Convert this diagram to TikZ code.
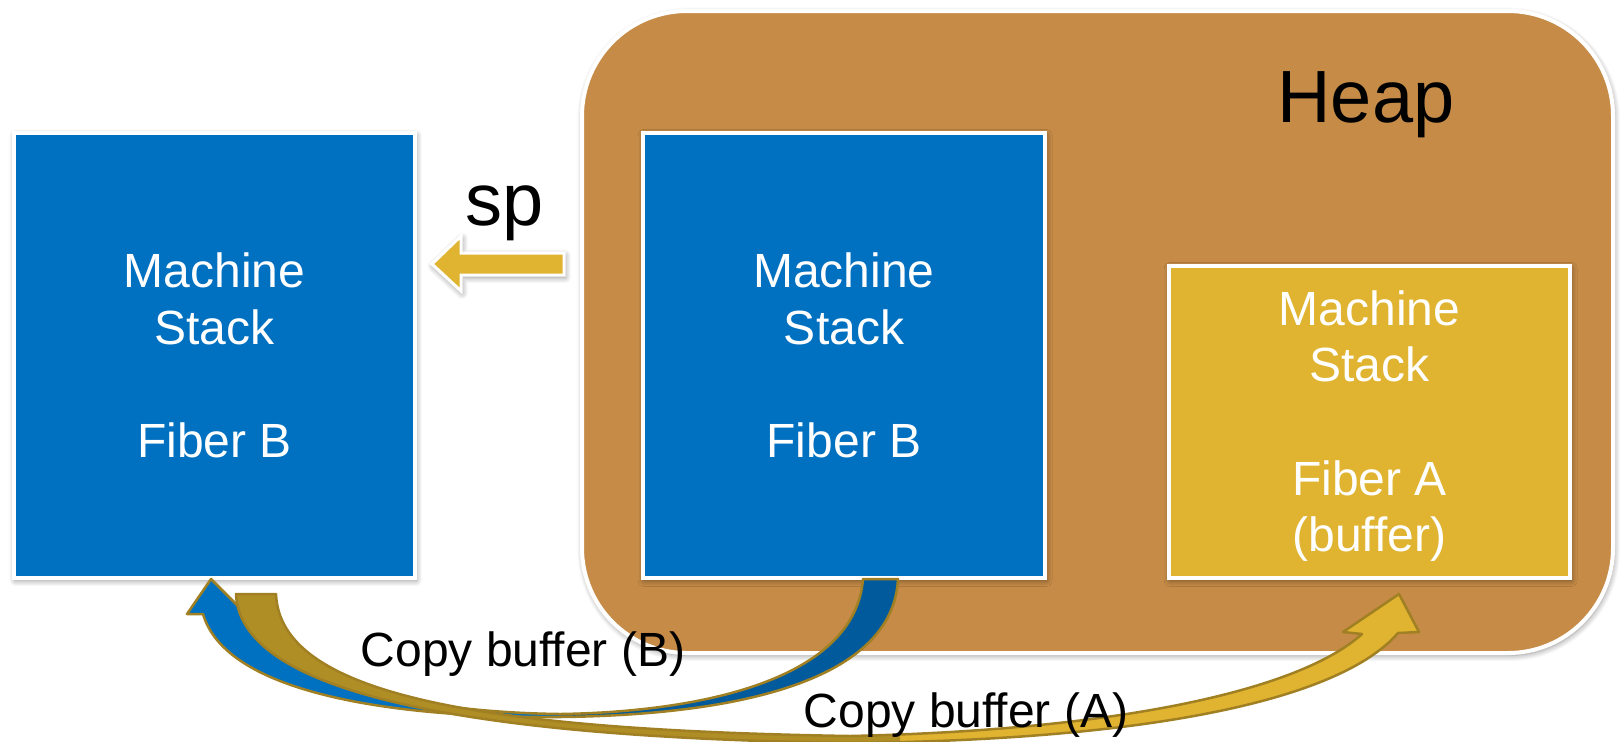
\documentclass[tikz,border=0pt]{standalone}
\usepackage{fontspec}
\setmainfont{Liberation Sans}
\usetikzlibrary{shadows.blur}

\definecolor{heapbrown}{RGB}{198,139,71}
\definecolor{stackblue}{RGB}{0,112,192}
\definecolor{stackbluedark}{RGB}{0,90,156}
\definecolor{bufferyellow}{RGB}{224,180,48}
\definecolor{bufferdark}{RGB}{176,142,38}
\definecolor{arrowrim}{RGB}{160,128,34}

% outline of the curved "copy buffer (B)" arrow: tail under the heap stack, head at the machine stack
\def\copyBpath{(863,579) -- (898,579) .. controls (893,680) and (740,715) .. (560,717)
  .. controls (380,718) and (225,690) .. (203,614) -- (187,614) -- (211,579) -- (246,614) -- (243,614)
  .. controls (262,675) and (400,712) .. (560,714) .. controls (700,712) and (855,680) .. (863,579) -- cycle}

% outline of the curved "copy buffer (A)" arrow: tail under the machine stack, head at the buffer
\def\copyApath{(236,594) -- (276,594) .. controls (280,695) and (480,730) .. (850,736)
  .. controls (1120,730) and (1300,690) .. (1362,634) -- (1343,632) -- (1399,594) -- (1419,632) -- (1398,633)
  .. controls (1340,700) and (1150,740) .. (850,743) .. controls (500,738) and (240,700) .. (236,594) -- cycle}

\begin{document}
\begin{tikzpicture}[x=0.5pt, y=-0.5pt,
  softshadow/.style={blur shadow={shadow xshift=0.6pt, shadow yshift=-1.2pt,
      shadow blur radius=3pt, shadow blur steps=8, shadow opacity=45}},
  heapbox/.style={draw=white, line width=2pt, fill=heapbrown, rounded corners=52.5pt,
      minimum width=515.5pt, minimum height=321pt, inner sep=0pt, softshadow},
  stackbox/.style={draw=white, line width=2pt, inner sep=0pt, minimum width=200.5pt, softshadow},
  boxtext/.style={text=white, align=center, font=\fontsize{24}{28.3}\selectfont},
  bigtext/.style={font=\fontsize{37}{44}\selectfont, anchor=base},
  copytext/.style={font=\fontsize{24}{28}\selectfont, anchor=base},
  rim/.style={draw=arrowrim, line width=1.25pt, line join=round},
]
\useasboundingbox (0,0) rectangle (1622,741);

% heap region and the three stacks
\node[heapbox] (heap) at (1097.5,332) {};
\node[stackbox, fill=stackblue, minimum height=222.5pt] (left) at (214.5,355.5) {};
\node[stackbox, fill=stackblue, minimum width=201pt, minimum height=222.5pt] (mid) at (844,355.5) {};
\node[stackbox, fill=bufferyellow, minimum height=156pt] (buf) at (1369.5,422) {};

\node[boxtext] (leftlbl) at (left.center) {Machine\\Stack\\[28.3pt]Fiber B};
\node[boxtext] (midlbl) at (mid.center) {Machine\\Stack\\[28.3pt]Fiber B};
\node[boxtext, yshift=-2pt] (buflbl) at (buf.center) {Machine\\Stack\\[28.3pt]Fiber A\\(buffer)};

\node[bigtext] (heaplbl) at (1366,122) {Heap};

% stack pointer arrow
\node[bigtext] (splbl) at (505,225) {sp};
\coordinate (sptip) at (432,264);
\path[fill=bufferyellow, draw=white, line width=1.5pt, softshadow]
  (sptip) -- (461,236) -- (461,253) -- (564,253) -- (564,275) -- (461,275) -- (461,291) -- cycle;

% copy buffer (B)
\fill[stackblue] \copyBpath;
\begin{scope}
  \clip (560,0) rectangle (1622,760);
  \fill[stackbluedark] \copyBpath;
\end{scope}
\draw[rim] \copyBpath;

% copy buffer (A)
\fill[bufferyellow] \copyApath;
\begin{scope}
  \clip (0,0) rectangle (900,760);
  \fill[bufferdark] \copyApath;
\end{scope}
\draw[rim] \copyApath;

\node[copytext] (cpB) at (523,666) {Copy buffer (B)};
\node[copytext] (cpA) at (966,727) {Copy buffer (A)};
\end{tikzpicture}
\end{document}
